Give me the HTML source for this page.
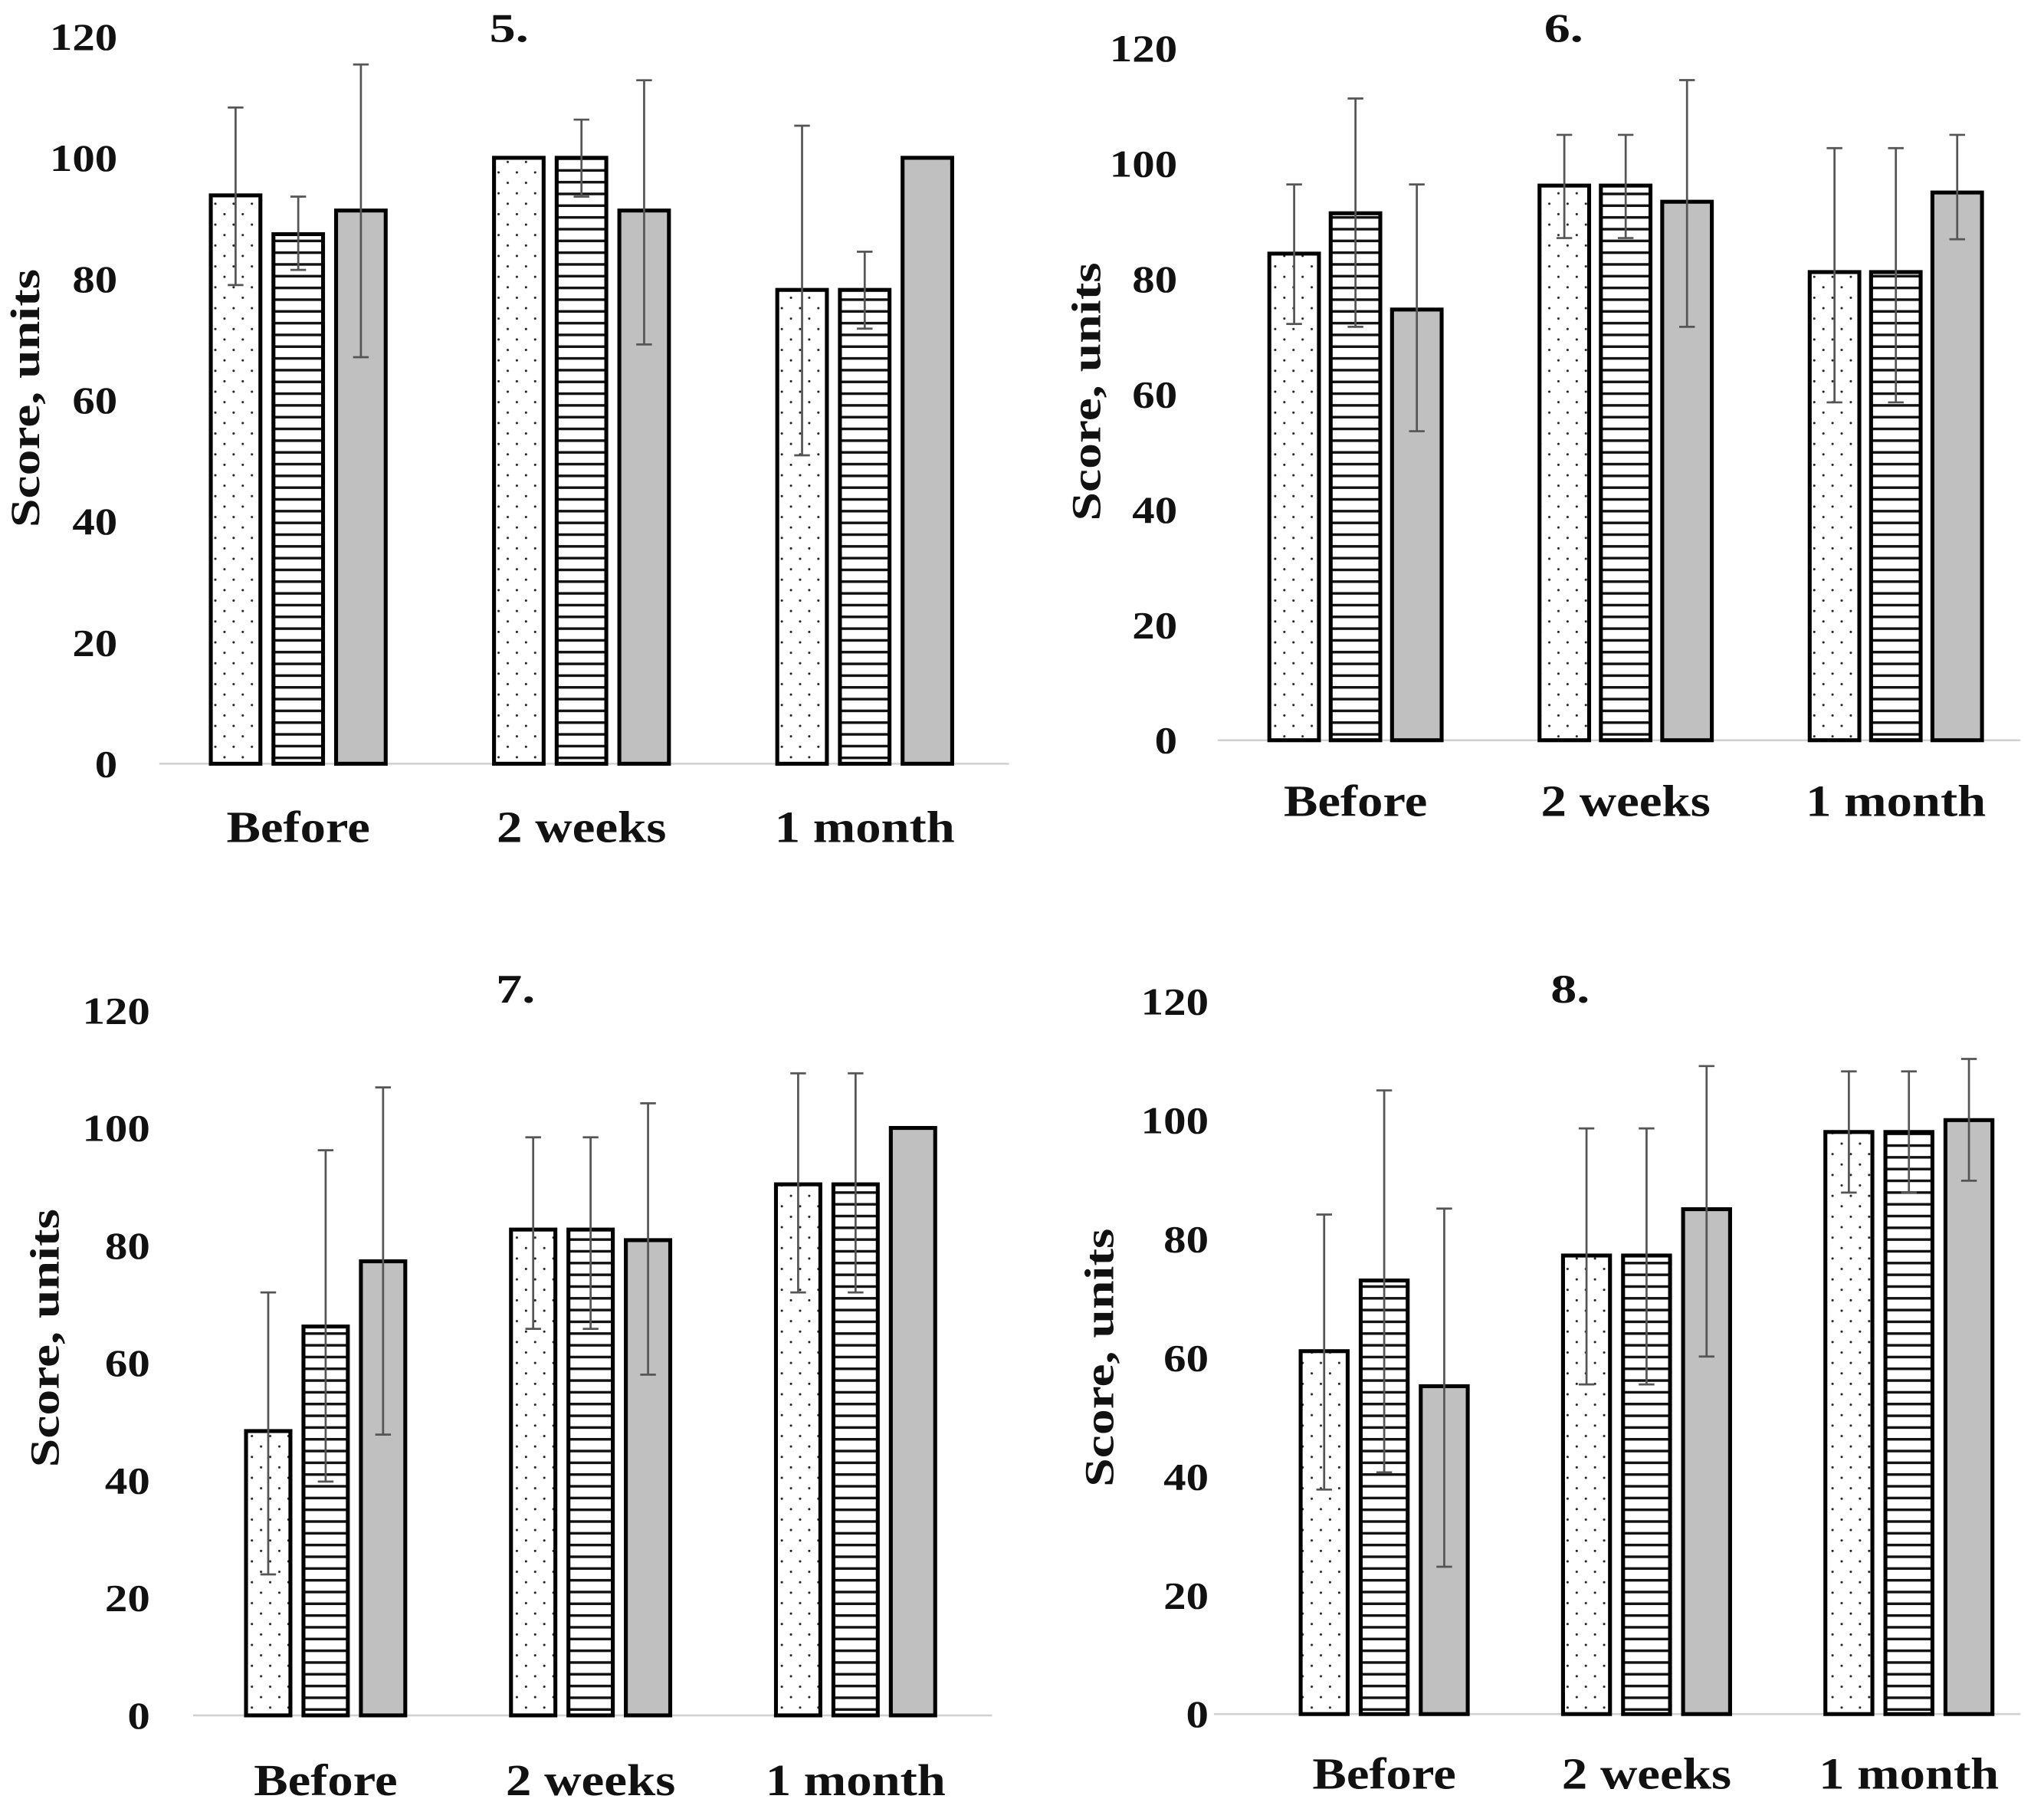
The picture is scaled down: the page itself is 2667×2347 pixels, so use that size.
<!DOCTYPE html>
<html><head><meta charset="utf-8"><style>
html,body{margin:0;padding:0;background:#fff}
svg{display:block}
text{font-family:"Liberation Serif",serif;font-weight:bold;fill:#111}
</style></head><body>
<svg id="chart" width="2667" height="2347" viewBox="0 0 1566 1378" xmlns="http://www.w3.org/2000/svg">
<defs>
<pattern id="dots" width="14" height="16" patternUnits="userSpaceOnUse"><rect width="14" height="16" fill="#fff"/><circle cx="4" cy="4" r="0.9" fill="#222"/><circle cx="11" cy="12" r="0.9" fill="#222"/></pattern>
<pattern id="hlines" width="10" height="9" patternUnits="userSpaceOnUse"><rect width="10" height="9" fill="#fff"/><rect y="3.5" width="10" height="2" fill="#111"/></pattern>
</defs>
</svg>
<script>
const categories = ["Before", "2 weeks", "1 month"];
const tickLabels = [0, 20, 40, 60, 80, 100, 120];
const panelTitles = ["5.", "6.", "7.", "8."];
// values per panel: [series][category]
const means5 = [[93.8, 100, 78.2], [87.4, 100, 78.2], [91.3, 91.3, 100]];
const lo5 = [[79, null, 50.9], [81.5, 93.6, 71.8], [67.1, 69.2, null]];
const hi5 = [[108.3, null, 105.3], [93.6, 106.3, 84.5], [115.4, 112.8, null]];
const means6 = [[84.4, 96.2, 81.2], [91.4, 96.2, 81.2], [74.7, 93.4, 95]];
const lo6 = [[72.2, 87.1, 58.6], [71.7, 87.1, 58.6], [53.6, 71.7, 86.9]];
const hi6 = [[96.4, 105, 102.7], [111.3, 105, 102.7], [96.4, 114.5, 105]];
const means7 = [[48.4, 82.7, 90.4], [66.2, 82.7, 90.4], [77.3, 80.9, 100]];
const lo7 = [[24, 65.8, 72], [39.8, 65.8, 72], [47.8, 58, null]];
const hi7 = [[72, 98.4, 109.3], [96.2, 98.4, 109.3], [106.9, 104.2, null]];
const means8 = [[61.1, 77.2, 98], [73, 77.2, 98], [55.2, 85, 100]];
const lo8 = [[37.8, 55.5, 87.8], [40.7, 55.5, 87.8], [24.8, 60.2, 89.8]];
const hi8 = [[84.1, 98.6, 108.2], [105, 98.6, 108.2], [85.1, 109.1, 110.3]];

const NS = "http://www.w3.org/2000/svg";
const svg = document.getElementById("chart");
const fills = ["url(#dots)", "url(#hlines)", "#c0c0c0"];
const seriesNames = ["dotted", "striped", "gray"];
const catWidths = [110, 130, 138];

const layouts = [
 {base:585, top120:28, bandX:120, bandW:217, axL:122, axR:773, barW:38, pitch:48, tickX:90, titleX:390, titleY:32, catY:645, ytX:30, ytY:305},
 {base:567, top120:37, bandX:935, bandW:207, axL:933, axR:1548, barW:38, pitch:47, tickX:902, titleX:1198, titleY:32, catY:625, ytX:843, ytY:300},
 {base:1314, top120:774, bandX:148, bandW:203, axL:148, axR:760, barW:34, pitch:44, tickX:115, titleX:395, titleY:768, catY:1375, ytX:45, ytY:1025},
 {base:1313, top120:767, bandX:960, bandW:201, axL:930, axR:1548, barW:36, pitch:46, tickX:926, titleX:1203, titleY:768, catY:1370, ytX:853, ytY:1040}
];
const allMeans = [means5, means6, means7, means8];
const allLo = [lo5, lo6, lo7, lo8];
const allHi = [hi5, hi6, hi7, hi8];

function mk(tag, attrs, parent){const e=document.createElementNS(NS,tag);for(const k in attrs)e.setAttribute(k,attrs[k]);parent.appendChild(e);return e;}

layouts.forEach((L, p) => {
  const g = mk("g", {}, svg);
  
  
  const y = v => L.base - (L.base - L.top120) * v / 120;
  const cx = i => L.bandX + L.bandW * (i + 0.5);
  const ax = mk("line", {x1:L.axL, x2:L.axR, y1:L.base, y2:L.base, stroke:"#d0d0d0", "stroke-width":1.5}, g);
  
  
  tickLabels.forEach(t => {
    const s = String(t);
    const tx = mk("text", {x:L.tickX, y:y(t)+10, "text-anchor":"end", "font-size":29, textLength:s.length*17.3, lengthAdjust:"spacingAndGlyphs"}, g);
    tx.textContent = s;
    
    
  });
  const yt = mk("text", {x:0, y:0, "text-anchor":"middle", "font-size":32, textLength:198, lengthAdjust:"spacingAndGlyphs", transform:`translate(${L.ytX},${L.ytY}) rotate(-90)`}, g);
  yt.textContent = "Score, units";
  
  
  const tt = mk("text", {x:L.titleX, y:L.titleY, "text-anchor":"middle", "font-size":31, textLength:30, lengthAdjust:"spacingAndGlyphs"}, g);
  tt.textContent = panelTitles[p];
  
  
  categories.forEach((c, i) => {
    const ct = mk("text", {x:cx(i), y:L.catY, "text-anchor":"middle", "font-size":34, textLength:catWidths[i], lengthAdjust:"spacingAndGlyphs"}, g);
    ct.textContent = c;
    
    
  });
  const M = allMeans[p], LO = allLo[p], HI = allHi[p];
  for (let s = 0; s < 3; s++) {
    for (let i = 0; i < 3; i++) {
      const bx = cx(i) + (s - 1) * L.pitch - L.barW / 2;
      const top = y(M[s][i]);
      const r = mk("rect", {x:bx, y:top, width:L.barW, height:L.base - top, fill:fills[s], stroke:"#000", "stroke-width":3}, g);
      
      
      if (LO[s][i] !== null && HI[s][i] !== null) {
        const ex = cx(i) + (s - 1) * L.pitch;
        const eg = mk("g", {stroke:"#555", "stroke-width":1.6}, g);
        
        
        mk("line", {x1:ex, x2:ex, y1:y(HI[s][i]), y2:y(LO[s][i])}, eg);
        mk("line", {x1:ex-6, x2:ex+6, y1:y(HI[s][i]), y2:y(HI[s][i])}, eg);
        mk("line", {x1:ex-6, x2:ex+6, y1:y(LO[s][i]), y2:y(LO[s][i])}, eg);
      }
    }
  }
});
</script>
</body></html>
